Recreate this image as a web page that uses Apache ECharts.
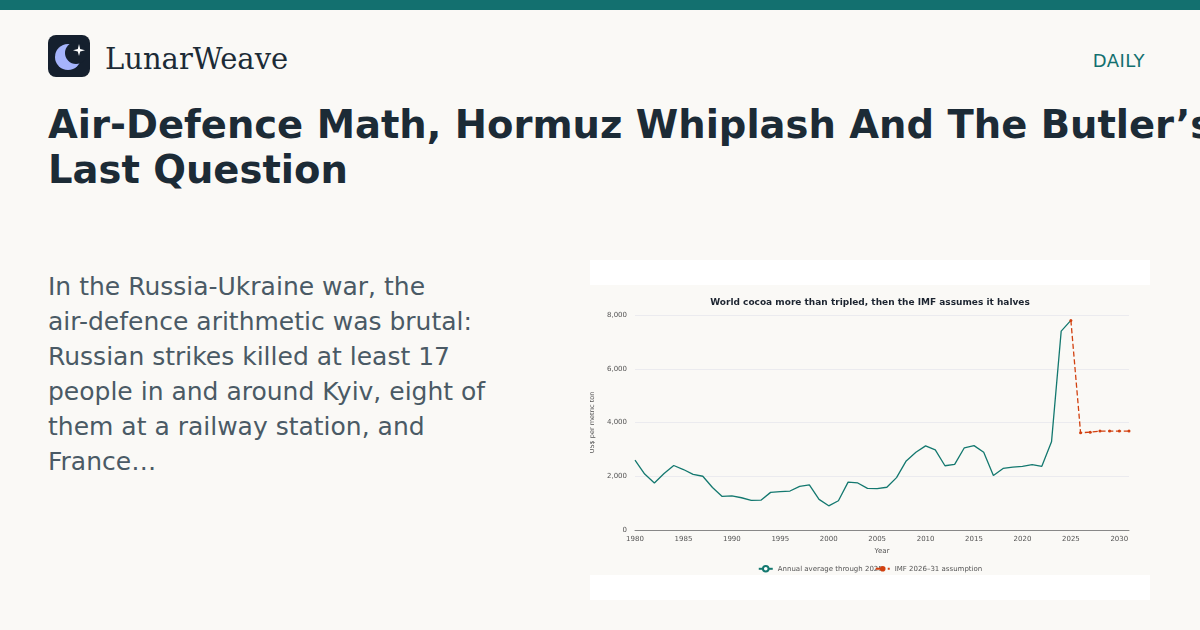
<!DOCTYPE html>
<html><head><meta charset="utf-8">
<script src="https://cdn.jsdelivr.net/npm/echarts@6/dist/echarts.min.js"></script>
<style>
body{margin:0;width:1200px;height:630px;background:#faf9f6;font-family:"DejaVu Sans",sans-serif;position:relative;overflow:hidden}
.bar{position:absolute;left:0;top:0;width:1200px;height:10px;background:#13706f}
.logo{position:absolute;left:48px;top:35px;width:42px;height:42px;border-radius:8px;background:#15202e}
.brand{position:absolute;left:105px;top:42px;font-family:"DejaVu Serif",serif;font-size:29px;color:#1c2b36}
.daily{position:absolute;right:55px;top:50px;font-size:18px;color:#13706f;letter-spacing:0.5px}
h1{position:absolute;left:48px;top:102px;margin:0;font-size:38.5px;line-height:45px;font-weight:bold;color:#1c2b36;white-space:nowrap}
.body{position:absolute;left:48px;top:269px;width:450px;font-size:25px;line-height:35px;color:#4a5a65;hyphens:none}
.card{position:absolute;left:590px;top:260px;width:560px;height:340px;background:#fff}
#c{position:absolute;left:590px;top:285px;width:560px;height:290px;background:#faf9f6}
</style></head><body>
<div class="bar"></div>
<div class="logo"><svg width="42" height="42" viewBox="0 0 42 42"><circle cx="20" cy="22" r="13" fill="#a5b4fc"/><circle cx="28" cy="18" r="11" fill="#15202e"/><path d="M31 9 L32.2 14 L37 15.2 L32.2 16.4 L31 21 L29.8 16.4 L25 15.2 L29.8 14Z" fill="#fff"/></svg></div>
<div class="brand">LunarWeave</div>
<div class="daily">DAILY</div>
<h1>Air-Defence Math, Hormuz Whiplash And The Butler’s<br>Last Question</h1>
<div class="body">In the Russia-Ukraine war, the <span style="white-space:nowrap">air-defence</span> arithmetic was brutal: Russian strikes killed at least 17 people in and around Kyiv, eight of them at a railway station, and France…</div>
<div class="card"></div>
<div id="c"></div>
<script>
const years=[];for(let y=1980;y<=2031;y++)years.push(String(y));
const annual=[2600,2080,1750,2100,2400,2250,2070,2000,1580,1250,1270,1200,1100,1110,1400,1430,1450,1620,1680,1140,900,1090,1780,1750,1550,1540,1590,1950,2570,2890,3130,2980,2390,2440,3060,3140,2890,2030,2290,2340,2370,2430,2370,3280,7400,7800];
const imfYears=['2025','2026','2027','2028','2029','2030','2031'];
const imf=[7800,3620,3640,3680,3680,3680,3680];
const F='DejaVu Sans';
const chart=echarts.init(document.getElementById('c'));
chart.setOption({
 backgroundColor:'#faf9f6',
 textStyle:{fontFamily:F},
 title:{text:'World cocoa more than tripled, then the IMF assumes it halves',left:'center',top:8,textStyle:{fontSize:9,fontWeight:'bold',color:'#1c2430',fontFamily:F}},
 grid:{left:45,right:21,top:30,bottom:45,containLabel:false,outerBoundsMode:'none'},
 legend:{top:275,itemGap:-8,itemWidth:14,itemHeight:7,textStyle:{fontSize:7,color:'#555',fontFamily:F},data:['Annual average through 2025','IMF 2026–31 assumption']},
 xAxis:{type:'category',data:years,boundaryGap:false,name:'Year',nameLocation:'middle',nameGap:16,nameTextStyle:{fontSize:7,color:'#555',fontFamily:F},
  axisLine:{lineStyle:{color:'#888'}},axisTick:{show:false},axisLabel:{fontSize:7,color:'#555',fontFamily:F,margin:6,interval:(i,v)=>(+v)%5===0}},
 yAxis:{type:'value',min:0,max:8000,interval:2000,name:'US$ per metric ton',nameLocation:'middle',nameGap:33,nameTextStyle:{fontSize:6.5,color:'#555',fontFamily:F},
  axisLabel:{fontSize:7,color:'#555',fontFamily:F,formatter:v=>v.toLocaleString('en-US')},splitLine:{lineStyle:{color:'#ebebef'}}},
 series:[
  {name:'Annual average through 2025',type:'line',data:annual,showSymbol:false,symbol:'emptyCircle',lineStyle:{color:'#13786f',width:1.3},itemStyle:{color:'#13786f'}},
  {name:'IMF 2026–31 assumption',type:'line',data:imfYears.map((y,i)=>[y,imf[i]]),symbol:'circle',symbolSize:3,lineStyle:{color:'#d2400f',width:1.3,type:'dashed'},itemStyle:{color:'#d2400f'}}
 ]
});
</script></body></html>
